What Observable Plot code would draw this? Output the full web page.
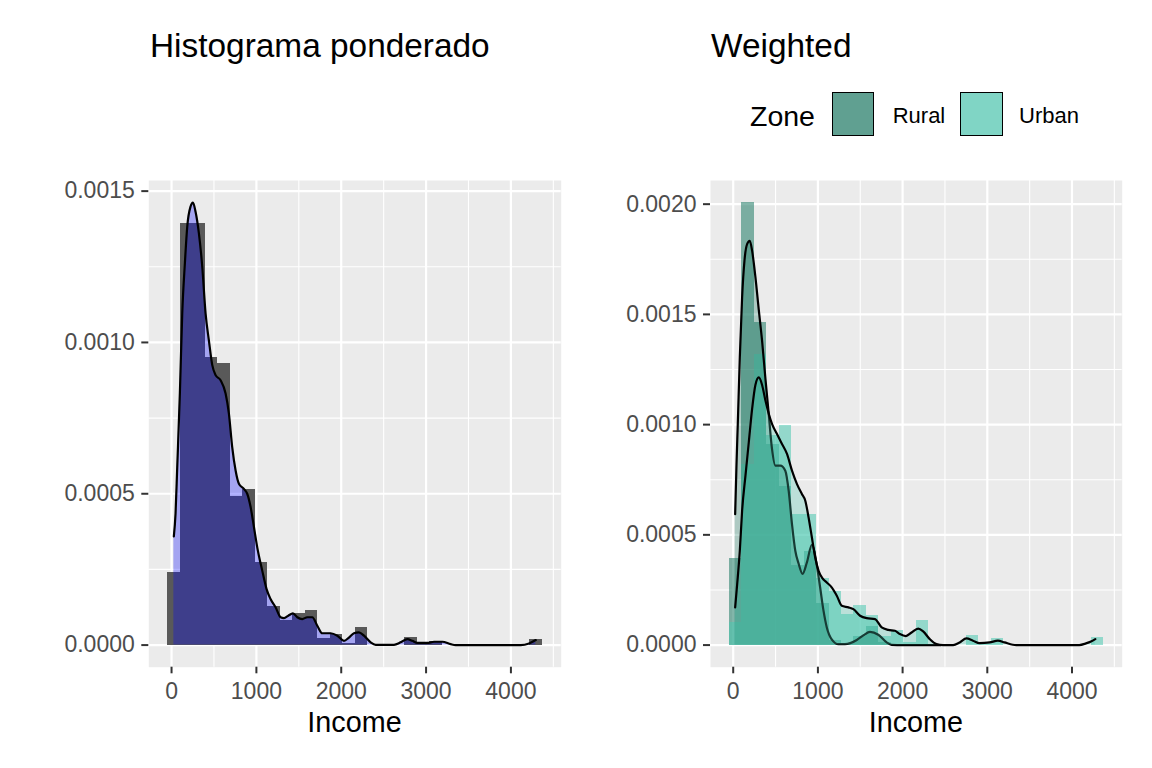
<!DOCTYPE html>
<html><head><meta charset="utf-8">
<script src="https://cdn.jsdelivr.net/npm/d3@7"></script>
<script src="https://cdn.jsdelivr.net/npm/@observablehq/plot@0.6"></script>
<style>
body{margin:0;background:#fff;font-family:"Liberation Sans",Arial,sans-serif;}
#wrap{position:relative;width:1152px;height:768px;overflow:hidden;background:#fff;}
.t{position:absolute;white-space:nowrap;line-height:1;color:#000;}
.key{position:absolute;box-sizing:border-box;border:1.8px solid #000;}
.panel{position:absolute;top:150px;}
</style></head><body><div id="wrap"></div>
<script>
// ---------- data ----------
const titles = ["Histograma ponderado", "Weighted"];
const xLabel = "Income";
const zones = ["Rural", "Urban"];
const zoneColors = ["#1d7a64", "#4bc8b0"];
const xTicks = [0, 1000, 2000, 3000, 4000];
const xMinor = [500, 1500, 2500, 3500, 4500];
const yTicksLeft = [0, 0.0005, 0.001, 0.0015];
const yMinorLeft = [0.00025, 0.00075, 0.00125];
const yTicksRight = [0, 0.0005, 0.001, 0.0015, 0.002];
const yMinorRight = [0.00025, 0.00075, 0.00125, 0.00175];

// histogram bin edges (income)
const incomeBreaks = [-47.2, 100.1, 247.4, 394.7, 542.0, 689.3, 836.6, 983.9, 1131.2, 1278.5, 1425.8, 1573.1, 1720.4, 1867.7, 2015.0, 2162.3, 2309.6, 2456.9, 2604.2, 2751.5, 2898.8, 3046.1, 3193.4, 3340.7, 3488.0, 3635.3, 3782.6, 3929.9, 4077.2, 4224.5, 4371.8];
// histogram densities per bin
const densityAll = [0.000240, 0.001393, 0.001393, 0.000949, 0.000931, 0.000490, 0.000514, 0.000274, 0.000127, 0.000081, 0.000105, 0.000114, 0.000022, 0.000036, 0.0000055, 0.000057, 0, 0, 0, 0.000024, 0.0000055, 0.000011, 0, 0, 0, 0, 0, 0, 0, 0.0000177];
const densityRural = [0.000393, 0.002007, 0.001464, 0.00091, 0.00072, 0.00036, 0.000423, 0.00019, 0.00002, 0.000005, 0.00004, 0.000083, 0.00001, 0, 0, 0, 0, 0, 0, 0, 0, 0, 0, 0, 0, 0, 0, 0, 0, 0];
const densityUrban = [0.000103, 0.00082, 0.001316, 0.00095, 0.000995, 0.000594, 0.000594, 0.0003, 0.000242, 0.00014, 0.000178, 0.000136, 0.000038, 0.000068, 0.000012, 0.00011, 0, 0, 0, 0.000042, 0.000008, 0.00003, 0, 0, 0, 0, 0, 0, 0, 0.0000345];

// kernel density curves
const kdeAllX = [27, 47, 67, 98, 126, 157, 185, 224, 252, 283, 322, 362, 401, 440, 480, 519, 578, 637, 676, 715, 755, 794, 853, 892, 932, 971, 1010, 1069, 1120, 1167, 1226, 1285, 1325, 1376, 1431, 1482, 1541, 1600, 1659, 1718, 1777, 1875, 1954, 2032, 2091, 2150, 2209, 2268, 2347, 2406, 2622, 2700, 2779, 2838, 2897, 3015, 3094, 3192, 3290, 3349, 4116, 4214, 4293];
const kdeAllY = [0.000359, 0.000434, 0.000588, 0.000831, 0.001096, 0.001261, 0.001383, 0.001449, 0.001462, 0.001432, 0.001361, 0.00125, 0.001096, 0.001007, 0.000925, 0.000892, 0.000875, 0.000831, 0.000765, 0.000654, 0.000577, 0.000533, 0.000516, 0.0005, 0.000456, 0.00039, 0.000323, 0.000246, 0.000185, 0.000152, 0.000125, 0.000092, 0.000089, 0.000097, 0.000105, 0.000092, 0.000086, 0.000092, 0.000092, 0.000064, 0.000039, 0.000039, 0.000031, 0.000014, 0.000025, 0.000039, 0.000042, 0.000031, 0.000009, 0.000001, 0.000001, 0.000009, 0.00002, 0.000014, 0.000007, 0.000007, 0.000011, 0.000011, 0.000003, 0, 0, 0.0000055, 0.0000166];
const kdeRuralX = [23, 39, 54, 78, 105, 133, 164, 196, 223, 262, 302, 341, 380, 419, 458, 498, 557, 615, 655, 694, 733, 772, 819, 870, 929, 988, 1027, 1066, 1105, 1165, 1243, 1320, 1459, 1540, 1615, 1713, 1812, 1870, 2000, 2450];
const kdeRuralY = [0.000594, 0.000821, 0.001003, 0.001305, 0.001577, 0.001744, 0.001819, 0.001834, 0.001789, 0.00167, 0.00152, 0.00138, 0.00121, 0.00105, 0.00089, 0.000814, 0.000814, 0.000791, 0.0007, 0.000549, 0.000428, 0.00037, 0.000323, 0.000375, 0.000455, 0.00036, 0.00026, 0.000156, 0.00008, 0.000025, 0.000004, 0.000004, 0.000023, 0.000045, 0.00006, 0.000047, 0.000012, 0.000001, 0, 0];
const kdeUrbanX = [23, 47, 78, 105, 145, 184, 223, 262, 302, 341, 380, 419, 458, 517, 576, 635, 694, 753, 811, 851, 890, 929, 968, 1008, 1050, 1105, 1165, 1223, 1282, 1361, 1419, 1498, 1576, 1674, 1753, 1831, 1910, 1968, 2039, 2106, 2184, 2243, 2321, 2400, 2478, 2596, 2674, 2753, 2831, 2909, 3027, 3125, 3203, 3301, 3341, 4086, 4165, 4224, 4275];
const kdeUrbanY = [0.000171, 0.000277, 0.000428, 0.000609, 0.00077, 0.00092, 0.00107, 0.00118, 0.001214, 0.00118, 0.00111, 0.00105, 0.001003, 0.000957, 0.000912, 0.000867, 0.000791, 0.00073, 0.000685, 0.000655, 0.000579, 0.000488, 0.000397, 0.000337, 0.000305, 0.000284, 0.000261, 0.000224, 0.000178, 0.000171, 0.000163, 0.000133, 0.000122, 0.000118, 0.00008, 0.000069, 0.000065, 0.00005, 0.000041, 0.000057, 0.000075, 0.000062, 0.000027, 0.0000045, 0, 0, 0.000012, 0.00003, 0.00002, 0.000009, 0.000012, 0.00002, 0.000012, 0.0000015, 0, 0, 0.0000076, 0.000016, 0.000027];

// ---------- helpers ----------
const bins = vals => vals.map((v, i) => ({x1: incomeBreaks[i], x2: incomeBreaks[i + 1], v}));
const curve = (xs, ys) => xs.map((x, i) => ({x, y: ys[i]}));
const expand = (lo, hi) => { const p = (hi - lo) * 0.05; return [lo - p, hi + p]; };
const xDomain = expand(incomeBreaks[0], incomeBreaks[incomeBreaks.length - 1]);
const FONT = "'Liberation Sans', Arial, sans-serif";
const LW = 2.2;

function baseMarks(yTicks, yMinor) {
  return [
    Plot.frame({fill: "#ebebeb", stroke: "none"}),
    Plot.gridX(xMinor, {stroke: "#fff", strokeOpacity: 1, strokeWidth: 1.1}),
    Plot.gridY(yMinor, {stroke: "#fff", strokeOpacity: 1, strokeWidth: 1.1}),
    Plot.gridX(xTicks, {stroke: "#fff", strokeOpacity: 1, strokeWidth: 2.2}),
    Plot.gridY(yTicks, {stroke: "#fff", strokeOpacity: 1, strokeWidth: 2.2})
  ];
}
function axisMarks(yTicks) {
  return [
    Plot.axisX(xTicks, {tickSize: 6.6, tickPadding: 9, fontSize: 23, stroke: "#333", fill: "#4d4d4d", strokeWidth: 2, tickFormat: "d", label: null}),
    Plot.axisY(yTicks, {tickSize: 7, tickPadding: 7, fontSize: 23, stroke: "#333", fill: "#4d4d4d", strokeWidth: 2, tickFormat: d3.format(".4f"), label: null})
  ];
}
const common = {width: 576, height: 618, marginTop: 30, marginBottom: 101.3,
  style: {fontFamily: FONT, background: "transparent", overflow: "visible"}};
const barOpts = {x1: "x1", x2: "x2", y1: d => 0, y2: "v", shapeRendering: "crispEdges"};

// ---------- left panel ----------
const yLeft = expand(0, d3.max(kdeAllY));
const left = Plot.plot({
  ...common, marginLeft: 148.3, marginRight: 15.3,
  x: {type: "linear", domain: xDomain},
  y: {domain: yLeft},
  marks: [
    ...baseMarks(yTicksLeft, yMinorLeft),
    Plot.rect(bins(densityAll), {...barOpts, fill: "#595959"}),
    Plot.area(curve(kdeAllX, kdeAllY), {x1: "x", y1: d => 0, y2: "y", fill: "blue", fillOpacity: 0.3, curve: "monotone-x"}),
    Plot.line(curve(kdeAllX, kdeAllY), {x: "x", y: "y", stroke: "#000", strokeWidth: LW, curve: "monotone-x"}),
    ...axisMarks(yTicksLeft)
  ]
});

// ---------- right panel ----------
const yRight = expand(0, d3.max(densityRural.concat(densityUrban)));
const right = Plot.plot({
  ...common, marginLeft: 134, marginRight: 30.3,
  x: {type: "linear", domain: xDomain},
  y: {domain: yRight},
  marks: [
    ...baseMarks(yTicksRight, yMinorRight),
    Plot.rect(bins(densityRural), {...barOpts, fill: zoneColors[0], fillOpacity: 0.55}),
    Plot.rect(bins(densityUrban), {...barOpts, fill: zoneColors[1], fillOpacity: 0.55}),
    Plot.area(curve(kdeRuralX, kdeRuralY), {x1: "x", y1: d => 0, y2: "y", fill: zoneColors[0], fillOpacity: 0.3, curve: "monotone-x"}),
    Plot.line(curve(kdeRuralX, kdeRuralY), {x: "x", y: "y", stroke: "#000", strokeWidth: LW, curve: "monotone-x"}),
    Plot.area(curve(kdeUrbanX, kdeUrbanY), {x1: "x", y1: d => 0, y2: "y", fill: zoneColors[1], fillOpacity: 0.3, curve: "monotone-x"}),
    Plot.line(curve(kdeUrbanX, kdeUrbanY), {x: "x", y: "y", stroke: "#000", strokeWidth: LW, curve: "monotone-x"}),
    ...axisMarks(yTicksRight)
  ]
});

// ---------- assemble ----------
const wrap = document.getElementById("wrap");
left.classList.add("panel"); left.style.left = "0px";
right.classList.add("panel"); right.style.left = "576px";
wrap.appendChild(left); wrap.appendChild(right);

function addText(txt, x, top, size, center) {
  const d = document.createElement("div");
  d.className = "t"; d.textContent = txt;
  d.style.left = x + "px"; d.style.top = top + "px"; d.style.fontSize = size + "px";
  if (center) d.style.transform = "translateX(-50%)";
  wrap.appendChild(d);
}
addText(titles[0], 150, 28.5, 33.4);
addText(titles[1], 711, 28.5, 33.4);
addText(xLabel, 354.5, 708, 28.75, true);
addText(xLabel, 915.9, 708, 28.75, true);
addText("Zone", 750, 101.6, 28.5);
// legend keys (histogram alpha + density alpha over light key background)
const keyX = [831.7, 960], labX = [892.7, 1019];
zones.forEach((z, i) => {
  const k = document.createElement("div");
  k.className = "key";
  k.style.left = keyX[i] + "px"; k.style.top = "92.3px";
  k.style.width = "42.6px"; k.style.height = "43.4px";
  const c = d3.rgb(zoneColors[i]);
  const bg = 242, a1 = 0.55, a2 = 0.3;
  const mix = ch => { const h = a1 * ch + (1 - a1) * bg; return Math.round(a2 * ch + (1 - a2) * h); };
  k.style.background = `rgb(${mix(c.r)},${mix(c.g)},${mix(c.b)})`;
  wrap.appendChild(k);
  addText(z, labX[i], 105.4, 22);
});
</script></body></html>
